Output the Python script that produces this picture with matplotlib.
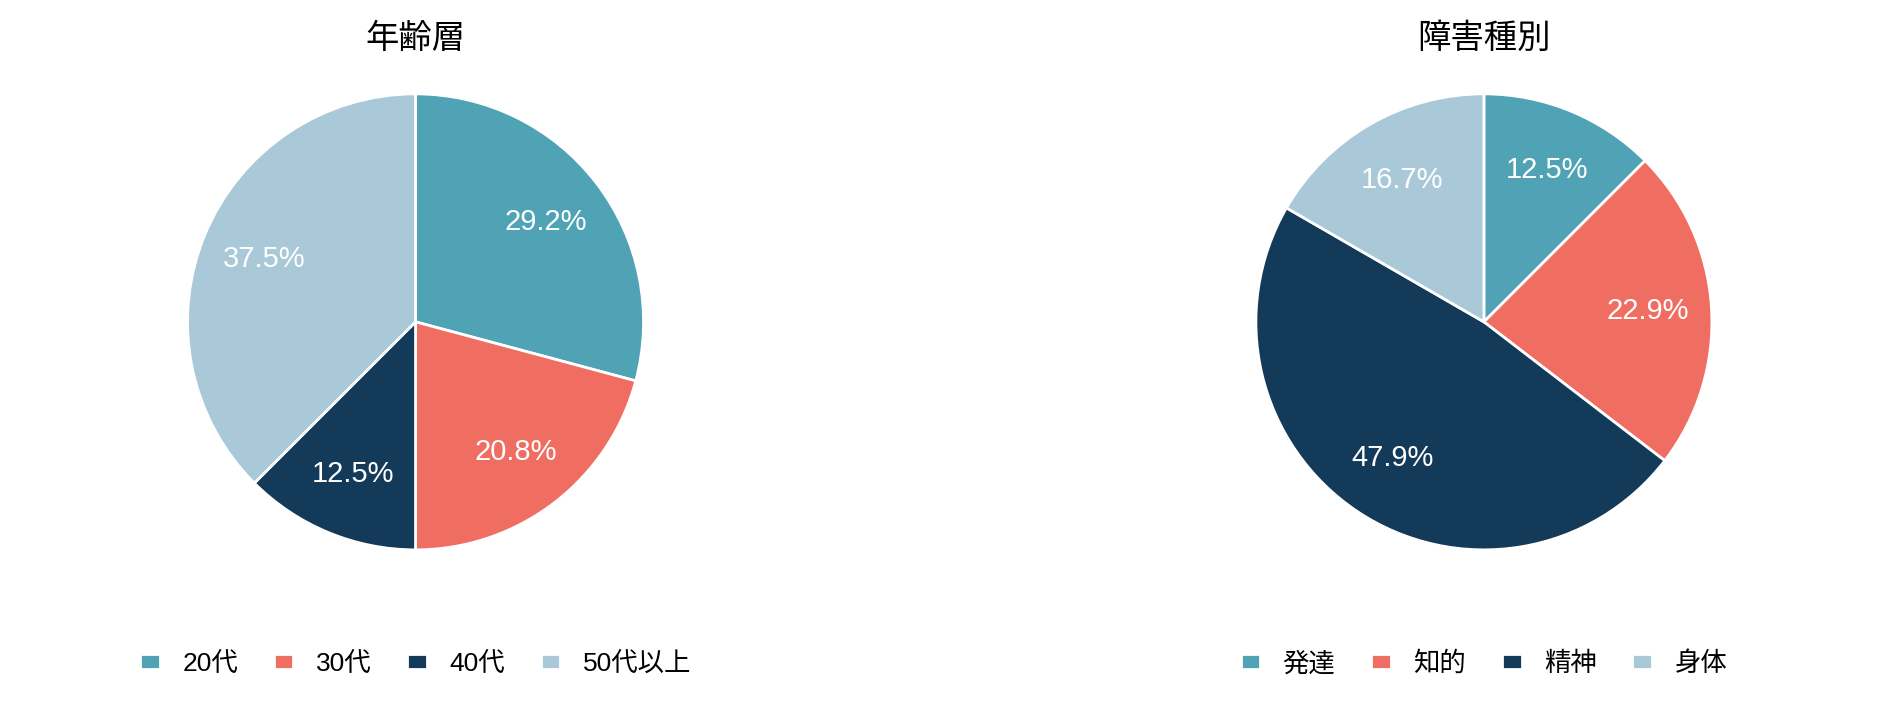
import matplotlib
matplotlib.use('Agg')
import matplotlib.pyplot as plt

plt.rcParams['font.family'] = ['Liberation Sans', 'Noto Sans CJK JP', 'DejaVu Sans']

colors = ['#50a3b5', '#f06e61', '#143a5a', '#a9c8d8']

age_title = '年齢層'
age_labels = ['20代', '30代', '40代', '50代以上']
age_values = [14, 10, 6, 18]

type_title = '障害種別'
type_labels = ['発達', '知的', '精神', '身体']
type_values = [6, 11, 23, 8]

fig = plt.figure(figsize=(19, 7.02), dpi=100)

def draw_pie(rect, values, labels, title):
    ax = fig.add_axes(rect)
    wedges, _, autotexts = ax.pie(
        values, colors=colors, startangle=90, counterclock=False,
        autopct='%.1f%%', pctdistance=0.72,
        wedgeprops=dict(edgecolor='white', linewidth=2),
        textprops=dict(color='white', fontsize=21))
    ax.set_xlim(-1.0, 1.0)
    ax.set_ylim(-1.0, 1.0)
    ax.set_aspect('equal')
    ax.set_title(title, fontsize=24, pad=33)
    ax.legend(wedges, labels, loc='center', bbox_to_anchor=(0.5, -0.25),
              ncol=4, frameon=False, fontsize=19,
              handlelength=0.75, handleheight=0.5,
              handletextpad=0.85, columnspacing=1.35)
    return ax

draw_pie([0.0987, 0.2165, 0.24, 0.65], age_values, age_labels, age_title)
draw_pie([0.661, 0.2165, 0.24, 0.65], type_values, type_labels, type_title)

fig.savefig('out.png', dpi=100)
